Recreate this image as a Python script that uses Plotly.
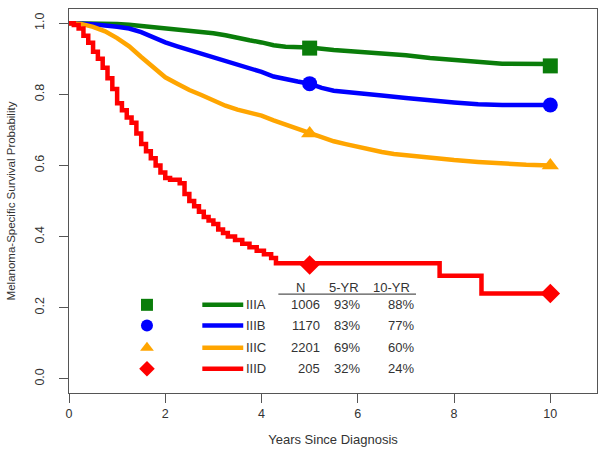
import plotly.graph_objects as go

# ---------------- data ----------------
stages = ["IIIA", "IIIB", "IIIC", "IIID"]
n_patients = [1006, 1170, 2201, 205]
surv_5yr = [93, 83, 69, 32]
surv_10yr = [88, 77, 60, 24]
colors = ["#0a7d0a", "#0000ff", "#ffa500", "#ff0000"]
symbols = ["square", "circle", "triangle-up", "diamond"]

t_IIIA = [0, 0.5, 1.0, 1.25, 1.5, 1.75, 2.0, 2.25, 2.5, 2.75, 3.0, 3.25, 3.5, 3.75,
          4.0, 4.25, 4.5, 5.0, 5.5, 6.0, 6.5, 7.0, 7.5, 8.0, 8.5, 9.0, 10.0]
s_IIIA = [1.0, 1.0, 0.998, 0.996, 0.993, 0.989, 0.984, 0.981, 0.978, 0.975, 0.972,
          0.966, 0.958, 0.952, 0.946, 0.938, 0.934, 0.932, 0.925, 0.921, 0.917,
          0.91, 0.902, 0.897, 0.892, 0.886, 0.885]

t_IIIB = [0, 0.5, 1.0, 1.25, 1.5, 1.75, 2.0, 2.25, 2.5, 2.75, 3.0, 3.25, 3.5, 3.75,
          4.0, 4.25, 4.5, 4.75, 5.0, 5.25, 5.5, 5.75, 6.0, 6.5, 7.0, 7.5, 8.0, 8.5,
          9.0, 10.0]
s_IIIB = [1.0, 0.997, 0.99, 0.985, 0.975, 0.96, 0.946, 0.935, 0.925, 0.915, 0.905,
          0.893, 0.883, 0.872, 0.863, 0.85, 0.842, 0.836, 0.83, 0.818, 0.81, 0.806,
          0.803, 0.797, 0.79, 0.782, 0.777, 0.772, 0.77, 0.77]

t_IIIC = [0, 0.25, 0.5, 0.75, 1.0, 1.25, 1.5, 1.75, 2.0, 2.25, 2.5, 2.75, 3.0, 3.25,
          3.5, 3.75, 4.0, 4.25, 4.5, 4.75, 5.0, 5.25, 5.5, 5.75, 6.0, 6.25, 6.5,
          6.75, 7.0, 7.25, 7.5, 7.75, 8.0, 8.5, 9.0, 9.5, 10.0]
s_IIIC = [1.0, 0.998, 0.99, 0.977, 0.958, 0.935, 0.905, 0.875, 0.848, 0.83, 0.812,
          0.798, 0.783, 0.768, 0.757, 0.748, 0.74, 0.727, 0.715, 0.703, 0.693, 0.68,
          0.668, 0.66, 0.652, 0.645, 0.638, 0.632, 0.628, 0.624, 0.621, 0.618, 0.615,
          0.61, 0.605, 0.602, 0.60]

t_IIID = [0, 0.1, 0.2, 0.3, 0.4, 0.5, 0.6, 0.7, 0.8, 0.9, 1.0, 1.1, 1.2, 1.3, 1.4,
          1.5, 1.6, 1.7, 1.8, 1.9, 2.0, 2.1, 2.3, 2.4, 2.5, 2.6, 2.7, 2.8, 2.9, 3.0,
          3.1, 3.2, 3.3, 3.45, 3.6, 3.75, 3.9, 4.05, 4.2, 4.3, 7.7, 8.57, 10.0]
s_IIID = [1.0, 0.995, 0.985, 0.965, 0.945, 0.92, 0.90, 0.875, 0.845, 0.815, 0.775,
          0.755, 0.735, 0.72, 0.69, 0.66, 0.64, 0.62, 0.60, 0.58, 0.565, 0.56, 0.55,
          0.52, 0.50, 0.485, 0.47, 0.455, 0.445, 0.435, 0.42, 0.41, 0.40, 0.39, 0.38,
          0.37, 0.36, 0.35, 0.34, 0.325, 0.29, 0.24, 0.24]

curve_times = [t_IIIA, t_IIIB, t_IIIC, t_IIID]
curve_surv = [s_IIIA, s_IIIB, s_IIIC, s_IIID]
marker_years = [5, 10]

x_ticks = [0, 2, 4, 6, 8, 10]
y_ticks = [0.0, 0.2, 0.4, 0.6, 0.8, 1.0]
y_tick_text = ["0.0", "0.2", "0.4", "0.6", "0.8", "1.0"]
table_header = ["N", "5-YR", "10-YR"]

# ---------------- layout constants (positions in axis units) ----------------
LINE_SHAPES = ["linear", "linear", "linear", "hv"]
LEG_MARK_X = 1.62
LEG_LINE_X0, LEG_LINE_X1 = 2.77, 3.62
LEG_LABEL_X = 3.63
COL_N_X, COL_5_X, COL_10_X = 5.26, 6.09, 7.21
HEAD_X = [4.82, 5.72, 6.70]
HEAD_Y = 0.258
RULE_Y = 0.238
ROW_Y = [0.208, 0.150, 0.087, 0.028]

FONT = "Liberation Sans, Arial, sans-serif"
TXT = "#333333"
AX = "#555555"

fig = go.Figure()

for i in range(4):
    fig.add_trace(go.Scatter(
        x=curve_times[i], y=curve_surv[i], mode="lines", line_shape=LINE_SHAPES[i],
        line=dict(color=colors[i], width=4.5), showlegend=False, hoverinfo="skip"))
    fig.add_trace(go.Scatter(
        x=marker_years, y=[surv_5yr[i] / 100, surv_10yr[i] / 100], mode="markers",
        marker=dict(symbol=symbols[i], color=colors[i], size=15,
                    line=dict(width=0)),
        showlegend=False, hoverinfo="skip"))

# custom legend / table
for i in range(4):
    fig.add_trace(go.Scatter(
        x=[LEG_MARK_X], y=[ROW_Y[i]], mode="markers",
        marker=dict(symbol=symbols[i], color=colors[i], size=12, line=dict(width=0)),
        showlegend=False, hoverinfo="skip"))
    fig.add_trace(go.Scatter(
        x=[LEG_LINE_X0, LEG_LINE_X1], y=[ROW_Y[i], ROW_Y[i]], mode="lines",
        line=dict(color=colors[i], width=4.5), showlegend=False, hoverinfo="skip"))
    fig.add_annotation(x=LEG_LABEL_X, y=ROW_Y[i], text=stages[i], xref="x", yref="y",
                       xanchor="left", yanchor="middle", showarrow=False,
                       font=dict(size=13, color=TXT, family=FONT))
    for cx, val in [(COL_N_X, f"{n_patients[i]}"),
                    (COL_5_X, f"{surv_5yr[i]}%"),
                    (COL_10_X, f"{surv_10yr[i]}%")]:
        fig.add_annotation(x=cx, y=ROW_Y[i], text=val, xref="x", yref="y",
                           xanchor="right", yanchor="middle", showarrow=False,
                           font=dict(size=13, color=TXT, family=FONT))

for hx, h in zip(HEAD_X, table_header):
    fig.add_annotation(x=hx, y=HEAD_Y, text=h, xref="x", yref="y",
                       xanchor="center", yanchor="middle", showarrow=False,
                       font=dict(size=13, color=TXT, family=FONT))
fig.add_shape(type="line", xref="x", yref="y", x0=4.35, x1=7.21, y0=RULE_Y, y1=RULE_Y,
              line=dict(color=AX, width=1.2))

fig.update_layout(
    width=607, height=456,
    margin=dict(l=69, r=10, t=9, b=63, autoexpand=False),
    paper_bgcolor="white", plot_bgcolor="white",
    font=dict(family=FONT, color=TXT, size=12),
)
fig.update_xaxes(
    range=[0, 10.97], tickvals=x_ticks, ticktext=[str(v) for v in x_ticks],
    ticks="outside", ticklen=9, tickcolor=AX, tickwidth=1, automargin=False,
    showline=True, linecolor=AX, linewidth=1.2, mirror=True,
    showgrid=False, zeroline=False, ticklabelstandoff=0,
    tickfont=dict(size=12.5, color=TXT),
    title=dict(text="Years Since Diagnosis", font=dict(size=13, color=TXT), standoff=14),
)
fig.update_yaxes(
    range=[-0.04, 1.04], tickvals=y_ticks, ticktext=y_tick_text, tickangle=-90,
    ticks="outside", ticklen=9, tickcolor=AX, tickwidth=1, automargin=False,
    showline=True, linecolor=AX, linewidth=1.2, mirror=True,
    showgrid=False, zeroline=False, ticklabelstandoff=10,
    tickfont=dict(size=12.5, color=TXT),
    title=dict(text="Melanoma-Specific Survival Probability",
               font=dict(size=11.5, color=TXT), standoff=14),
)

fig.write_html("out.html", config={"displayModeBar": False},
               post_script="document.body.style.margin='0px';")
